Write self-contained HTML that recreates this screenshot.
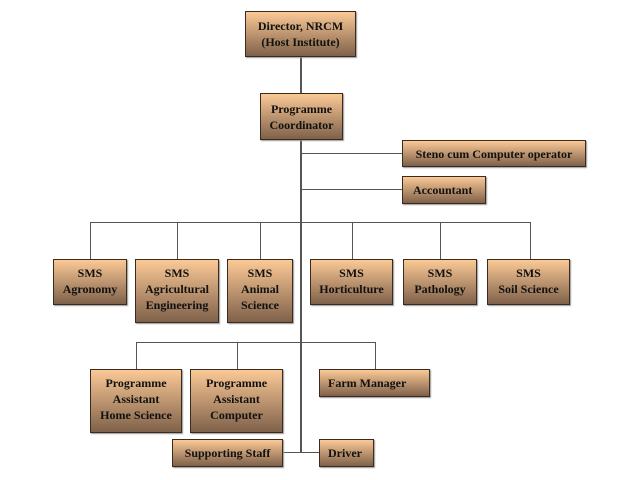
<!DOCTYPE html>
<html><head><style>
body{margin:0;width:640px;height:480px;background:#fff;position:relative;overflow:hidden;font-family:"Liberation Serif",serif;}
.b{position:absolute;box-sizing:border-box;border:1px solid #3a2a20;background:linear-gradient(#fbc996,#7f614a);box-shadow:1px 1px 1px #999;display:flex;align-items:center;justify-content:center;text-align:center;font-weight:bold;font-size:12px;line-height:16px;color:#111;}
.l{position:absolute;background:#555;}
</style></head><body>
<div class="l" style="left:300px;top:57px;width:2px;height:37px"></div>
<div class="l" style="left:300px;top:140px;width:2px;height:312px"></div>
<div class="l" style="left:302px;top:153px;width:100px;height:1px"></div>
<div class="l" style="left:302px;top:189px;width:100px;height:1px"></div>
<div class="l" style="left:90px;top:222px;width:441px;height:1px"></div>
<div class="l" style="left:90px;top:222px;width:1px;height:37px"></div>
<div class="l" style="left:177px;top:222px;width:1px;height:37px"></div>
<div class="l" style="left:260px;top:222px;width:1px;height:37px"></div>
<div class="l" style="left:352px;top:222px;width:1px;height:37px"></div>
<div class="l" style="left:440px;top:222px;width:1px;height:37px"></div>
<div class="l" style="left:530px;top:222px;width:1px;height:37px"></div>
<div class="l" style="left:136px;top:342px;width:240px;height:1px"></div>
<div class="l" style="left:136px;top:342px;width:1px;height:27px"></div>
<div class="l" style="left:237px;top:342px;width:1px;height:27px"></div>
<div class="l" style="left:375px;top:342px;width:1px;height:27px"></div>
<div class="l" style="left:283px;top:452px;width:36px;height:1px"></div>

<div class="b" style="left:245px;top:11px;width:111px;height:46px">Director, NRCM<br>(Host Institute)</div>
<div class="b" style="left:260px;top:93px;width:83px;height:47px">Programme<br>Coordinator</div>
<div class="b" style="left:402px;top:140px;width:184px;height:27px">Steno cum Computer operator</div>
<div class="b" style="left:402px;top:176px;width:84px;height:28px;justify-content:flex-start;padding-left:10px">Accountant</div>
<div class="b" style="left:53px;top:259px;width:74px;height:46px;align-items:flex-start;padding-top:5px">SMS<br>Agronomy</div>
<div class="b" style="left:135px;top:259px;width:84px;height:64px;align-items:flex-start;padding-top:5px">SMS<br>Agricultural<br>Engineering</div>
<div class="b" style="left:227px;top:259px;width:66px;height:64px;align-items:flex-start;padding-top:5px">SMS<br>Animal<br>Science</div>
<div class="b" style="left:310px;top:259px;width:83px;height:46px;align-items:flex-start;padding-top:5px">SMS<br>Horticulture</div>
<div class="b" style="left:403px;top:259px;width:74px;height:46px;align-items:flex-start;padding-top:5px">SMS<br>Pathology</div>
<div class="b" style="left:487px;top:259px;width:83px;height:46px;align-items:flex-start;padding-top:5px">SMS<br>Soil Science</div>
<div class="b" style="left:90px;top:369px;width:92px;height:64px;align-items:flex-start;padding-top:5px">Programme<br>Assistant<br>Home Science</div>
<div class="b" style="left:190px;top:369px;width:93px;height:64px;align-items:flex-start;padding-top:5px">Programme<br>Assistant<br>Computer</div>
<div class="b" style="left:319px;top:369px;width:111px;height:28px;justify-content:flex-start;padding-left:8px">Farm Manager</div>
<div class="b" style="left:172px;top:439px;width:111px;height:28px">Supporting Staff</div>
<div class="b" style="left:319px;top:439px;width:55px;height:28px;justify-content:flex-start;padding-left:8px">Driver</div>
</body></html>
